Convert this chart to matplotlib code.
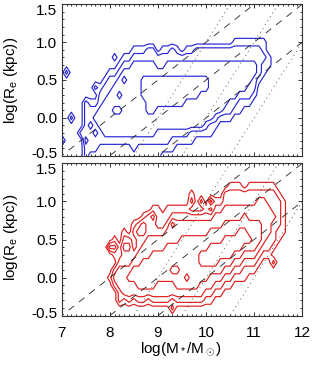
import numpy as np
import matplotlib
matplotlib.use("Agg")
import matplotlib.pyplot as plt
from matplotlib.ticker import MultipleLocator
from matplotlib.transforms import ScaledTranslation

plt.rcParams['font.family'] = ['Liberation Sans', 'DejaVu Sans']
plt.rcParams['mathtext.fontset'] = 'custom'
plt.rcParams['mathtext.rm'] = 'Liberation Sans'
plt.rcParams['mathtext.it'] = 'Liberation Sans'
plt.rcParams['lines.scale_dashes'] = False

# ---- binned galaxy counts (digit = contour class), one string per mass bin,
# ---- listed from log R = -0.5 upward in steps of 0.1
mass_bins = np.round(np.arange(7.0, 12.05, 0.1), 2)
size_bins = np.round(np.arange(-0.5, 1.55, 0.1), 2)

top_columns = [
    "002", "000000000002", "000002", "", "0002",
    "22322222", "12223221", "1223232102", "1122333221", "11233333221",
    "112333333221", "11233343332101", "1123334343321", "11233333334321", "11233333333321",
    "122333333333321", "112333333333321", "112333334443321", "112333444443322", "112333444443322",
    "11223334444322", "012233344443221", "012233344443321", "011233344443322", "001233344443321",
    "00123334444332", "001233334443321", "001133334443321", "000133334443322", "000133333443322",
    "000123333443322", "000113333333322", "000012333333322", "000001333333322", "000001233333322",
    "000001223333322", "0000001233333221", "0000001123333221", "0000000123333221", "0000000122333221",
    "0000000012233221", "0000000000122221", "0000000000011211", "00000000000011", "",
    "", "", "", "", "", "",
]

bottom_columns = [
    "", "", "", "", "", "", "", "", "", "",
    "0000010003", "00002320131", "0022333211", "001333322321", "00233432232",
    "0013344321121", "0023444332232", "00234444332331", "00134444333222", "002344444332231",
    "002334444332111", "00233444433211", "002334444433211", "021334544433421", "002344544433321",
    "002344444443321", "002345444443321", "00234444444332021", "00234444444332", "0023344554433202",
    "001234455443321", "0012334555443203", "0001234555443321", "0001234455443321", "00001234555443322",
    "000012345554433221", "000001234554433221", "000001234555433221", "00000112345544322", "000000123454433221",
    "000000123444433221", "000000012344433321", "000000001233333321", "000000001223333221", "000000020122232221",
    "00000000001122221", "0000000000011111", "", "", "", "",
]

contour_levels = [0.5, 1.5, 2.5, 3.5, 4.5]

dashed_offsets = [8.0, 9.0, 10.0]   # log R = 0.5 (log M - offset)
dashed_slope = 0.5
dotted_offsets = [9.0, 10.0, 11.0]  # log R = log M - offset
dotted_slope = 1.0

x_ticks = [7, 8, 9, 10, 11, 12]
y_ticks = [-0.5, 0.0, 0.5, 1.0, 1.5]
y_ticklabels = ["-0.5", "0.0", "0.5", "1.0", "1.5"]

panel_colors = ["#2626d6", "#e01e1e"]


def to_grid(cols):
    n = len(size_bins)
    arr = np.array([[int(c) for c in s.ljust(n, "0")[:n]] for s in cols], dtype=float)
    return arr.T


W, H = 317, 372
fig = plt.figure(figsize=(W / 100, H / 100), dpi=100)
left = 61.7 / W
width = (302.3 - 61.7) / W
ax_top = fig.add_axes([left, 1 - 155.7 / H, width, (155.7 - 4.3) / H])
ax_bot = fig.add_axes([left, 1 - 315.7 / H, width, (315.7 - 163.3) / H])

line_mass = np.array([6.5, 12.5])
for ax, cols, col in [(ax_top, top_columns, panel_colors[0]),
                      (ax_bot, bottom_columns, panel_colors[1])]:
    Z = to_grid(cols)
    ax.contour(mass_bins, size_bins, Z, levels=contour_levels,
               colors=col, linewidths=0.85)
    for off in dashed_offsets:
        ax.plot(line_mass, dashed_slope * (line_mass - off), color="#222222",
                lw=0.6, dashes=(5.0, 4.5))
    for off in dotted_offsets:
        ax.plot(line_mass, dotted_slope * (line_mass - off), color="#444444",
                lw=0.6, dashes=(0.7, 2.6))
    ax.set_xlim(7, 12)
    ax.set_ylim(-0.5, 1.5)
    ax.set_xticks(x_ticks)
    ax.set_xticklabels([str(t) for t in x_ticks])
    ax.set_yticks(y_ticks)
    ax.set_yticklabels(y_ticklabels)
    ax.xaxis.set_minor_locator(MultipleLocator(0.1))
    ax.yaxis.set_minor_locator(MultipleLocator(0.1))
    ax.tick_params(which="both", direction="in", top=True, right=True,
                   colors="#333333", labelcolor="black", labelsize=11, width=0.7)
    ax.tick_params(which="major", length=3.2)
    ax.tick_params(which="minor", length=1.7)
    ax.tick_params(axis="y", pad=3.3)
    ax.tick_params(axis="x", pad=7.5)
    for sp in ax.spines.values():
        sp.set_color("#333333")
        sp.set_linewidth(0.8)

ax_top.tick_params(labelbottom=False)

# keep the end labels inside the panel, as in the reference
for ax in (ax_top, ax_bot):
    ticks = ax.yaxis.get_major_ticks()
    for tk, val in zip(ticks, y_ticks):
        if val == 1.5:
            tk.label1.set_transform(tk.label1.get_transform() +
                                    ScaledTranslation(0, -0.052, fig.dpi_scale_trans))
        elif val == -0.5:
            tk.label1.set_transform(tk.label1.get_transform() +
                                    ScaledTranslation(0, 0.036, fig.dpi_scale_trans))

ylab = r"log(R$_{\rm e}$ (kpc))"
fig.text(11 / W, 1 - 80 / H, ylab, rotation=90, ha="center", va="center", fontsize=11)
fig.text(11 / W, 1 - 237 / H, ylab, rotation=90, ha="center", va="center", fontsize=11)
fig.text(181 / W, 1 - 349 / H, r"log(M$_*$/M$_\odot$)", ha="center", va="center", fontsize=11)

fig.savefig("out.png", dpi=100)
